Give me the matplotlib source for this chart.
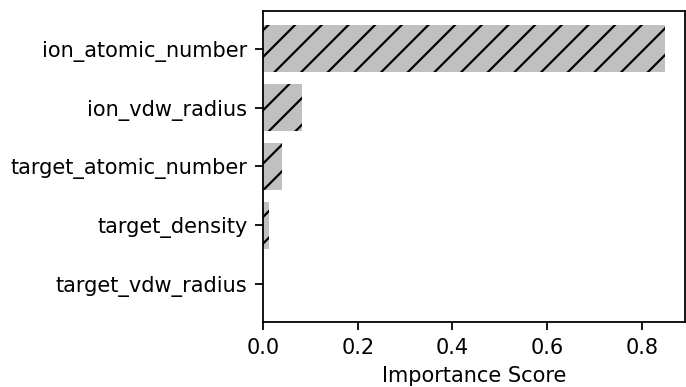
import matplotlib
matplotlib.use("Agg")
import matplotlib.pyplot as plt

features = ['ion_atomic_number', 'ion_vdw_radius', 'target_atomic_number',
            'target_density', 'target_vdw_radius']
importance = [0.848, 0.082, 0.041, 0.012, 0.001]

plt.rcParams['font.size'] = 9.4

fig = plt.figure(figsize=(686 / 160, 387 / 160), dpi=160)
ax = fig.add_axes([0.3834, 0.168, 0.6146, 0.8036])

ax.barh(features, importance, color='silver', hatch='//')
ax.invert_yaxis()
ax.set_xlabel('Importance Score')
ax.set_title('Feature Importance (Random Forest)', fontsize=11.5, pad=9)

fig.savefig('out.png', dpi=160)
